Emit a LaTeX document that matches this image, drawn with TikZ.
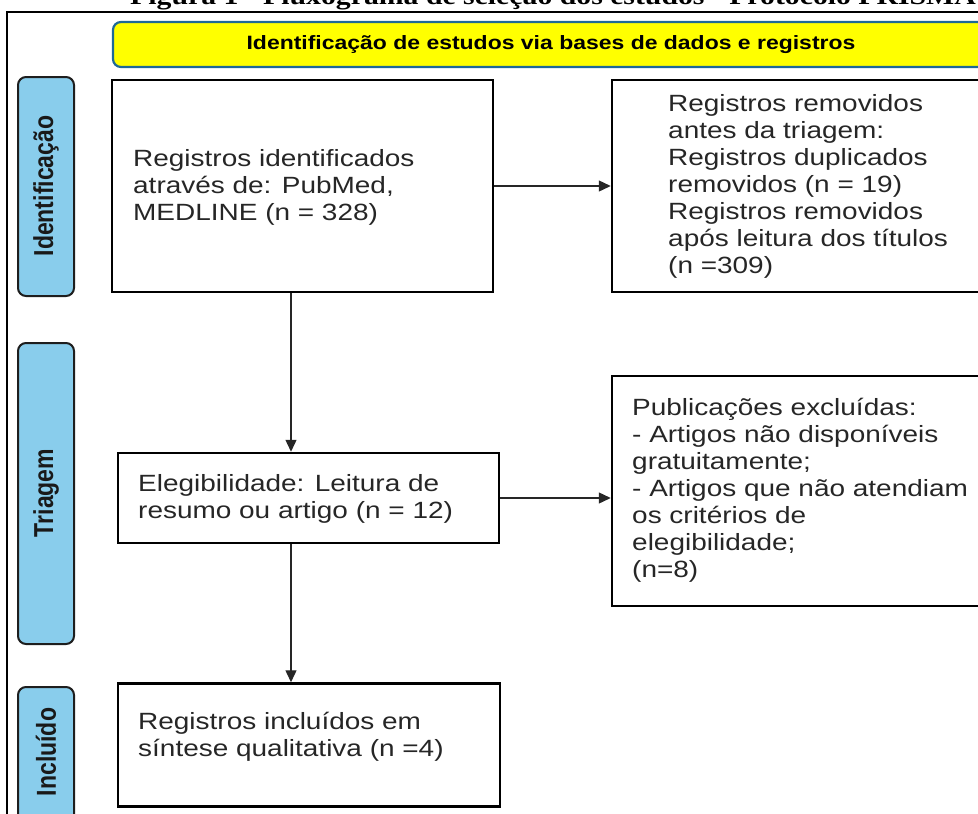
\documentclass[tikz,border=0pt]{standalone}
\usepackage{fontspec}
\setmainfont{Liberation Sans}
\newfontfamily\boxfont[FakeStretch=1.19]{Liberation Sans}
\newfontfamily\sidefont[FakeStretch=0.84]{Liberation Sans}
\newfontfamily\titlefont[FakeStretch=1.19]{Liberation Serif}
\usetikzlibrary{arrows.meta}
\definecolor{bannerfill}{RGB}{255,255,0}
\definecolor{bannerline}{RGB}{31,105,150}
\definecolor{barfill}{RGB}{137,205,236}
\definecolor{barline}{RGB}{30,30,30}
\begin{document}
\begin{tikzpicture}[x=1pt,y=-1pt,
  box/.style={draw=black, line width=2.5pt, rectangle, inner sep=0pt},
  txt/.style={inner sep=0pt, align=left, anchor=west, text=black!85, font=\boxfont\fontsize{23.5}{27}\selectfont},
  bar/.style={draw=barline, fill=barfill, line width=2pt, rounded corners=8pt, inner sep=0pt},
  bartext/.style={rotate=90, inner sep=0pt, text=black!90, font=\sidefont\bfseries\fontsize{27.4}{30}\selectfont},
  banner/.style={draw=bannerline, fill=bannerfill, line width=2.2pt, rounded corners=8pt, inner sep=0pt},
  conn/.style={draw=black!85, line width=1.4pt},
  arr/.style={conn, -{Triangle[length=12pt,width=11pt]}},
]
\useasboundingbox (0,0) rectangle (978,814);
% title (cut by top edge)
\node[anchor=base west, inner sep=0pt, font=\titlefont\bfseries\fontsize{25}{27}\selectfont] (title) at (130,4) {Figura 1 - Fluxograma de seleção dos estudos - Protocolo PRISMA};
% outer frame
\draw[line width=2pt] (7,840) -- (7,12) -- (1000,12);
% banner
\node[banner, minimum width=887pt, minimum height=45pt] (ban) at (556.5,44.5) {};
\node[inner sep=0pt, font=\boxfont\bfseries\fontsize{19.3}{22}\selectfont] (bantext) at (551,45) {Identificação de estudos via bases de dados e registros};
% side bars
\node[bar, minimum width=56pt, minimum height=219pt] (bar1) at (46,186.5) {};
\node[bartext] (bar1t) at (46,186) {Identificação};
\node[bar, minimum width=56pt, minimum height=301pt] (bar2) at (46,493.5) {};
\node[bartext] (bar2t) at (46,493) {Triagem};
\node[bar, minimum width=56pt, minimum height=153pt] (bar3) at (46,763.5) {};
\node[bartext] (bar3t) at (46,752) {Incluído};
% boxes
\node[box, minimum width=381pt, minimum height=212pt] (b1) at (302.5,186) {};
\node[box, minimum width=388pt, minimum height=212pt] (b2) at (806,186) {};
\node[box, minimum width=381pt, minimum height=90pt] (b3) at (308.5,498) {};
\node[box, minimum width=388pt, minimum height=230pt] (b4) at (806,491) {};
\node[box, minimum width=382pt, minimum height=123pt] (b5) at (309,745) {};
% texts
\node[txt] (t1) at (133,187) {Registros identificados\\através de: PubMed,\\MEDLINE (n = 328)};
\node[txt] (t2) at (668,186) {Registros removidos\\antes da triagem:\\Registros duplicados\\removidos (n = 19)\\Registros removidos\\após leitura dos títulos\\(n =309)};
\node[txt] (t3) at (138,499) {Elegibilidade: Leitura de\\resumo ou artigo (n = 12)};
\node[txt] (t4) at (632,490) {Publicações excluídas:\\- Artigos não disponíveis\\gratuitamente;\\- Artigos que não atendiam\\os critérios de\\elegibilidade;\\(n=8)};
\node[txt] (t5) at (138,737) {Registros incluídos em\\síntese qualitativa (n =4)};
% connectors
\coordinate (v) at (291,0);
\draw[arr] (b1.east) -- (b2.west);
\draw[arr] (b3.east) -- (b3.east -| b4.west);
\draw[arr] (b1.south -| v) -- (b3.north -| v);
\draw[arr] (b3.south -| v) -- (b5.north -| v);
\end{tikzpicture}
\end{document}
